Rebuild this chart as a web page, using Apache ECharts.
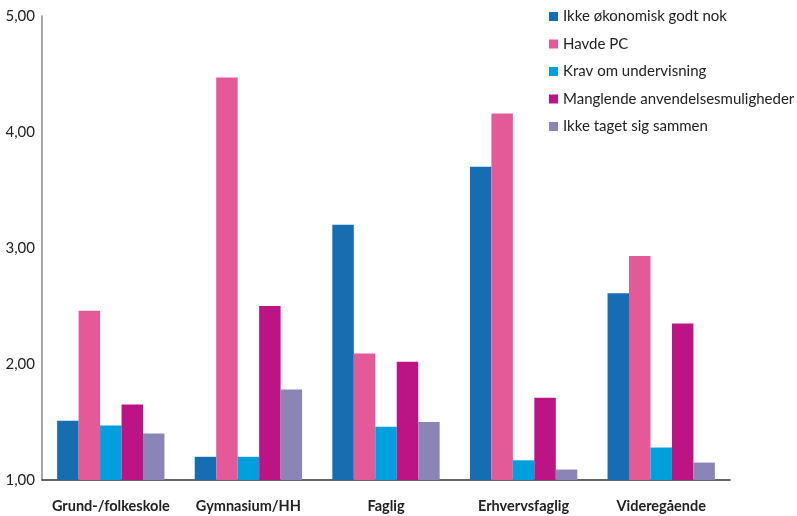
<!DOCTYPE html>
<html>
<head>
<meta charset="utf-8">
<script src="https://cdn.jsdelivr.net/npm/echarts@6/dist/echarts.min.js"></script>
<style>
  html, body { margin: 0; padding: 0; background: #fff; }
  #chart { width: 797px; height: 516px; }
</style>
</head>
<body>
<div id="chart"></div>
<script>
// Education level groups along the x axis
const categories = ['Grund-/folkeskole', 'Gymnasium/HH', 'Faglig', 'Erhvervsfaglig', 'Videregående'];

// Series names, in legend order
const seriesNames = [
  'Ikke økonomisk godt nok',
  'Havde PC',
  'Krav om undervisning',
  'Manglende anvendelsesmuligheder',
  'Ikke taget sig sammen'
];

// Values per series (one per category)
const ikkeOkonomisk = [1.51, 1.20, 3.20, 3.70, 2.61];
const havdePC       = [2.46, 4.47, 2.09, 4.16, 2.93];
const kravUndervis  = [1.47, 1.20, 1.46, 1.17, 1.28];
const manglende     = [1.65, 2.50, 2.02, 1.71, 2.35];
const ikkeTaget     = [1.40, 1.78, 1.50, 1.09, 1.15];

// Y axis tick values
const yTicks = [1, 2, 3, 4, 5];

const seriesValues = [ikkeOkonomisk, havdePC, kravUndervis, manglende, ikkeTaget];
const colors = ['#166db1', '#e45a99', '#00a0dc', '#bd1485', '#8b84b7'];

const chart = echarts.init(document.getElementById('chart'));
chart.setOption({
  animation: false,
  color: colors,
  grid: { left: 42, right: 67, top: 16, bottom: 36, containLabel: false },
  legend: {
    orient: 'vertical',
    left: 544,
    top: 4,
    itemWidth: 9,
    itemHeight: 9,
    itemGap: 12.5,
    icon: 'rect',
    textStyle: { fontFamily: 'Lato', fontSize: 15, color: '#222' },
    data: seriesNames
  },
  xAxis: {
    type: 'category',
    data: categories,
    axisLine: { lineStyle: { color: '#333', width: 1.5 } },
    axisTick: { show: false },
    axisLabel: {
      interval: 0,
      fontFamily: 'Lato',
      fontWeight: 'bold',
      fontSize: 14.5,
      color: '#222',
      margin: 19
    }
  },
  yAxis: {
    type: 'value',
    min: yTicks[0],
    max: yTicks[yTicks.length - 1],
    interval: 1,
    splitLine: { show: false },
    axisTick: { show: false },
    axisLine: { show: true, lineStyle: { color: '#888', width: 1.5 } },
    axisLabel: {
      fontFamily: 'Lato',
      fontSize: 15,
      color: '#222',
      margin: 7,
      formatter: v => v.toFixed(2).replace('.', ',')
    }
  },
  series: seriesNames.map((name, i) => ({
    name: name,
    type: 'bar',
    data: seriesValues[i],
    barGap: '0%',
    barCategoryGap: '22%'
  }))
});
</script>
</body>
</html>
